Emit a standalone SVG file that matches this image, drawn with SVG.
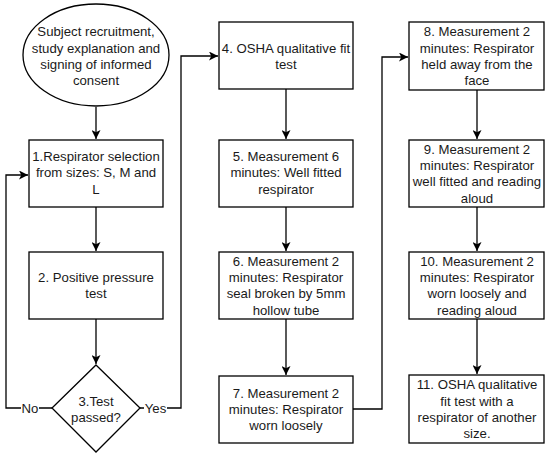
<svg xmlns="http://www.w3.org/2000/svg" width="550" height="459" viewBox="0 0 550 459">
<style>
.n{fill:#fff;stroke:#000;stroke-width:1.3}
.t{font-family:"Liberation Sans",Arial,sans-serif;font-size:13.2px;fill:#1a1a1a;text-anchor:middle}
.c{fill:none;stroke:#000;stroke-width:1.3}
</style>
<defs>
<marker id="a" viewBox="0 0 10 10" refX="10" refY="5" markerUnits="userSpaceOnUse" markerWidth="9" markerHeight="9" orient="auto">
<path d="M0,0 L10,5 L0,10 L2.5,5 z" fill="#000"/>
</marker>
</defs>
<rect width="550" height="459" fill="#fff"/>
<g id="connectors">
<path class="c" d="M96,107 V139" marker-end="url(#a)"/>
<path class="c" d="M96,207 V251" marker-end="url(#a)"/>
<path class="c" d="M96,319 V364" marker-end="url(#a)"/>
<path class="c" d="M52,408 H6 V175 H28" marker-end="url(#a)"/>
<path class="c" d="M140,408 H181 V56 H218" marker-end="url(#a)"/>
<path class="c" d="M286,89 V139" marker-end="url(#a)"/>
<path class="c" d="M286,207 V251" marker-end="url(#a)"/>
<path class="c" d="M286,319 V375" marker-end="url(#a)"/>
<path class="c" d="M353,409 H382 V57 H408" marker-end="url(#a)"/>
<path class="c" d="M477,90 V139" marker-end="url(#a)"/>
<path class="c" d="M477,207 V251" marker-end="url(#a)"/>
<path class="c" d="M477,319 V374" marker-end="url(#a)"/>
<rect x="21" y="400" width="18" height="16" fill="#fff"/>
<text class="t" x="30" y="412.7">No</text>
<rect x="144" y="400" width="23" height="16" fill="#fff"/>
<text class="t" x="155.5" y="412.7">Yes</text>
</g>
<g id="start">
<ellipse class="n" cx="96" cy="55" rx="73" ry="51"/>
<text class="t" x="96" y="36.4">Subject recruitment,</text>
<text class="t" x="96" y="52.6">study explanation and</text>
<text class="t" x="96" y="68.8">signing of informed</text>
<text class="t" x="96" y="85">consent</text>
</g>
<g id="n1">
<rect class="n" x="29" y="140" width="134" height="67"/>
<text class="t" x="96" y="161.1">1.Respirator selection</text>
<text class="t" x="96" y="177.3">from sizes: S, M and</text>
<text class="t" x="96" y="193.5">L</text>
</g>
<g id="n2">
<rect class="n" x="29" y="252" width="134" height="67"/>
<text class="t" x="96" y="282.1">2. Positive pressure</text>
<text class="t" x="96" y="298.3">test</text>
</g>
<g id="n3">
<path class="n" d="M96,365 L140,408 L96,452 L52,408 Z"/>
<text class="t" x="96" y="405.6">3.Test</text>
<text class="t" x="96" y="421.8">passed?</text>
</g>
<g id="n4">
<rect class="n" x="219" y="22" width="134" height="67"/>
<text class="t" x="286" y="52.6">4. OSHA qualitative fit</text>
<text class="t" x="286" y="68.8">test</text>
</g>
<g id="n5">
<rect class="n" x="219" y="140" width="134" height="67"/>
<text class="t" x="286" y="161.1">5. Measurement 6</text>
<text class="t" x="286" y="177.3">minutes: Well fitted</text>
<text class="t" x="286" y="193.5">respirator</text>
</g>
<g id="n6">
<rect class="n" x="219" y="252" width="134" height="67"/>
<text class="t" x="286" y="265.9">6. Measurement 2</text>
<text class="t" x="286" y="282.1">minutes: Respirator</text>
<text class="t" x="286" y="298.3">seal broken by 5mm</text>
<text class="t" x="286" y="314.5">hollow tube</text>
</g>
<g id="n7">
<rect class="n" x="219" y="376" width="134" height="67"/>
<text class="t" x="286" y="397.6">7. Measurement 2</text>
<text class="t" x="286" y="413.8">minutes: Respirator</text>
<text class="t" x="286" y="430">worn loosely</text>
</g>
<g id="n8">
<rect class="n" x="409" y="22" width="135" height="68"/>
<text class="t" x="477" y="36.4">8. Measurement 2</text>
<text class="t" x="477" y="52.6">minutes: Respirator</text>
<text class="t" x="477" y="68.8">held away from the</text>
<text class="t" x="477" y="85">face</text>
</g>
<g id="n9">
<rect class="n" x="409" y="140" width="135" height="67"/>
<text class="t" x="477" y="153.9">9. Measurement 2</text>
<text class="t" x="477" y="170.1">minutes: Respirator</text>
<text class="t" x="477" y="186.3">well fitted and reading</text>
<text class="t" x="477" y="202.5">aloud</text>
</g>
<g id="n10">
<rect class="n" x="409" y="252" width="135" height="67"/>
<text class="t" x="477" y="265.9">10. Measurement 2</text>
<text class="t" x="477" y="282.1">minutes: Respirator</text>
<text class="t" x="477" y="298.3">worn loosely and</text>
<text class="t" x="477" y="314.5">reading aloud</text>
</g>
<g id="n11">
<rect class="n" x="409" y="375" width="135" height="68"/>
<text class="t" x="477" y="389.4">11. OSHA qualitative</text>
<text class="t" x="477" y="405.6">fit test with a</text>
<text class="t" x="477" y="421.8">respirator of another</text>
<text class="t" x="477" y="438">size.</text>
</g>
</svg>
